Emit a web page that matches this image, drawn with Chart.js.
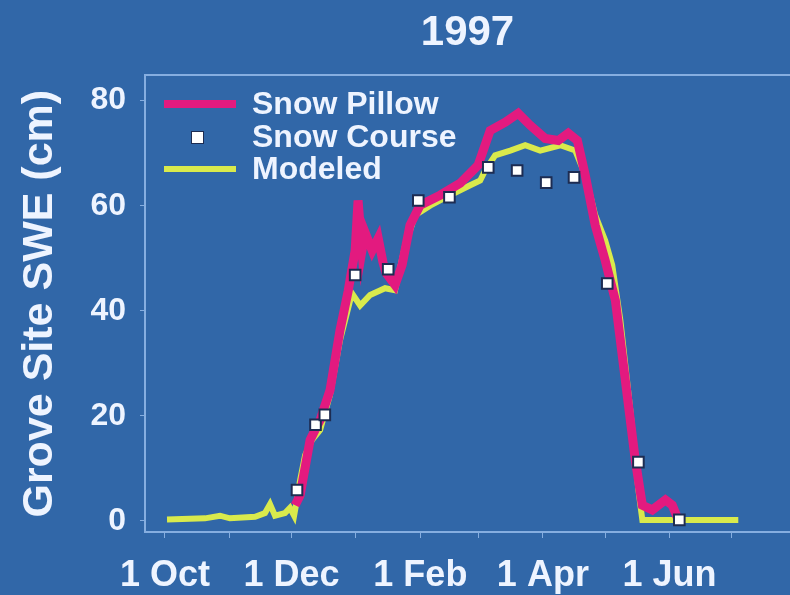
<!DOCTYPE html>
<html>
<head>
<meta charset="utf-8">
<title>1997 Grove Site SWE</title>
<script src="https://cdn.jsdelivr.net/npm/chart.js@4.4.1/dist/chart.umd.min.js"></script>
<style>
    html, body { margin: 0; padding: 0; background: #3167a8; }
    #wrap { width: 790px; height: 595px; }
</style>
</head>
<body>
<div id="wrap"><canvas id="swe-chart" width="790" height="595"></canvas></div>
<script>
// Days are counted from 1 Oct 1996 (day 0); SWE in cm
const pillowDays = [62.7, 65.1, 69.9, 74.7, 79.5, 84.3, 88.2, 91.6, 93, 94.9, 96.4, 99.8, 102.7, 105, 106.5, 110.8, 114.2, 118, 122.9, 132.5, 142.2, 150.8, 156.6, 163.9, 170.1, 175.9, 183.1, 189.4, 194.2, 198.6, 202.4, 207.2, 212, 216.9, 221.7, 226.5, 229.9, 234.7, 241, 244.3, 247.2];
const pillowSWE = [3, 4.9, 15.4, 19.2, 24.9, 36.3, 43.7, 51.5, 61, 51.5, 54.9, 51.5, 53.8, 49.2, 47.2, 44.9, 48.7, 56.3, 60.1, 62, 64.3, 67.7, 74.3, 75.9, 77.6, 75.3, 72.8, 72.4, 73.8, 72.4, 65.8, 56.3, 49.6, 42, 26.8, 11.6, 3, 2.1, 4, 3, 0.2];

const modelDays = [1, 19.3, 26.5, 31.3, 43.4, 48.2, 50.6, 53, 57.8, 60.2, 62.2, 63.1, 65.1, 67.5, 70.8, 74.7, 79.5, 84.3, 89.2, 90.6, 94, 98.8, 106, 110.8, 115.7, 120.5, 127.7, 137.3, 147, 151.8, 154.2, 159, 166.3, 173.5, 180.7, 190.4, 197.6, 202.4, 207.2, 212, 215.4, 219.3, 224.1, 228, 229.9, 257.8, 276.1];
const modelSWE = [0.3, 0.5, 1.0, 0.5, 0.8, 1.5, 3.2, 1.0, 1.5, 2.5, 1.0, 3, 7.8, 12.5, 15.4, 17.3, 24, 34.4, 42, 43, 41, 43, 44.3, 43.9, 52.5, 58.2, 60, 62, 63.9, 64.8, 66.7, 69.6, 70.5, 71.5, 70.5, 71.5, 70.5, 65.8, 58.2, 53.4, 48.7, 38.2, 21.1, 5.9, 0.2, 0.2, 0.2];

const courseDays = [63.6, 72.5, 77, 91.6, 107.5, 122, 137, 155.7, 169.6, 183.6, 197, 213, 228, 247.7];
const courseSWE = [5.9, 18.3, 20.2, 46.8, 47.9, 61, 61.6, 67.3, 66.7, 64.4, 65.4, 45.2, 11.2, 0.2];

// first day of each month, Oct through Jul; only every second one is labelled
const monthTicks = [0, 31, 61, 92, 123, 151, 182, 212, 243, 273];
const monthLabels = ['1 Oct', '', '1 Dec', '', '1 Feb', '', '1 Apr', '', '1 Jun', ''];
const sweTicks = [0, 20, 40, 60, 80];

const textColor = '#eef4ff';
const axisColor = '#86aee0';
const pillowColor = '#e31a7f';
const modelColor = '#d9ea4c';

Chart.defaults.font.family = "'Liberation Sans', Arial, Helvetica, sans-serif";
Chart.defaults.font.weight = 'bold';
Chart.defaults.color = textColor;

const toPoints = (xs, ys) => xs.map((x, i) => ({ x: x, y: ys[i] }));

// legend drawn inside the plot, top left
const insetLegend = {
    id: 'insetLegend',
    afterDatasetsDraw(chart) {
        const ctx = chart.ctx;
        const rows = [
            { ds: chart.data.datasets[1], y: 104 },
            { ds: chart.data.datasets[0], y: 137 },
            { ds: chart.data.datasets[2], y: 169 }
        ];
        ctx.save();
        rows.forEach(row => {
            const ds = row.ds;
            if (ds.showLine === false) {
                ctx.fillStyle = ds.pointBackgroundColor;
                ctx.strokeStyle = ds.pointBorderColor;
                ctx.lineWidth = 2;
                ctx.strokeRect(192, row.y - 5, 11, 11);
                ctx.fillRect(192, row.y - 5, 11, 11);
            } else {
                ctx.strokeStyle = ds.borderColor;
                ctx.lineWidth = Math.min(ds.borderWidth, 8);
                ctx.beginPath();
                ctx.moveTo(164, row.y);
                ctx.lineTo(236, row.y);
                ctx.stroke();
            }
            ctx.fillStyle = textColor;
            ctx.font = "bold 32px 'Liberation Sans', Arial, sans-serif";
            ctx.textBaseline = 'middle';
            ctx.textAlign = 'left';
            ctx.fillText(ds.label, 252, row.y + 1);
        });
        ctx.restore();
    }
};

const ctx = document.getElementById('swe-chart').getContext('2d');
const sweChart = new Chart(ctx, {
    type: 'line',
    data: {
        datasets: [
            {
                label: 'Snow Course',
                data: toPoints(courseDays, courseSWE),
                showLine: false,
                pointStyle: 'rect',
                pointRadius: 7.5,
                pointBackgroundColor: '#ffffff',
                pointBorderColor: '#1d2c52',
                pointBorderWidth: 2,
                order: 0
            },
            {
                label: 'Snow Pillow',
                data: toPoints(pillowDays, pillowSWE),
                borderColor: pillowColor,
                borderWidth: 9,
                pointRadius: 0,
                tension: 0,
                order: 1
            },
            {
                label: 'Modeled',
                data: toPoints(modelDays, modelSWE),
                borderColor: modelColor,
                borderWidth: 6,
                pointRadius: 0,
                tension: 0,
                order: 2
            }
        ]
    },
    options: {
        responsive: false,
        animation: false,
        layout: { padding: 0, autoPadding: false },
        plugins: {
            legend: { display: false },
            tooltip: { enabled: false },
            title: {
                display: true,
                text: '1997',
                color: textColor,
                fullSize: false,
                font: { size: 42, weight: 'bold' },
                padding: { top: 8, bottom: 17 }
            }
        },
        scales: {
            x: {
                type: 'linear',
                position: 'bottom',
                min: -9.6,
                max: 301,
                afterBuildTicks: scale => { scale.ticks = monthTicks.map(v => ({ value: v })); },
                afterFit: scale => { scale.height = 63; },
                ticks: {
                    autoSkip: false,
                    maxRotation: 0,
                    padding: 16,
                    color: textColor,
                    font: { size: 36, weight: 'bold' },
                    callback: value => monthLabels[monthTicks.indexOf(value)] || ''
                },
                grid: { drawOnChartArea: false, tickLength: 6, color: axisColor },
                border: { color: axisColor, width: 2 }
            },
            xTop: {
                type: 'linear',
                position: 'top',
                min: -9.6,
                max: 301,
                ticks: { display: false, padding: 0 },
                grid: { display: false, drawTicks: false },
                afterFit: scale => { scale.height = 0; },
                border: { display: true, color: axisColor, width: 2 }
            },
            y: {
                min: -2.1,
                max: 84.8,
                afterBuildTicks: scale => { scale.ticks = sweTicks.map(v => ({ value: v })); },
                afterFit: scale => { scale.width = 145; },
                ticks: {
                    padding: 14,
                    color: textColor,
                    font: { size: 32, weight: 'bold' }
                },
                grid: { drawOnChartArea: false, tickLength: 5, color: axisColor },
                border: { color: axisColor, width: 2 },
                title: {
                    display: true,
                    text: 'Grove Site SWE (cm)',
                    color: textColor,
                    font: { size: 43, weight: 'bold' },
                    padding: { top: 14, bottom: 0 }
                }
            }
        }
    },
    plugins: [insetLegend]
});
</script>
</body>
</html>
